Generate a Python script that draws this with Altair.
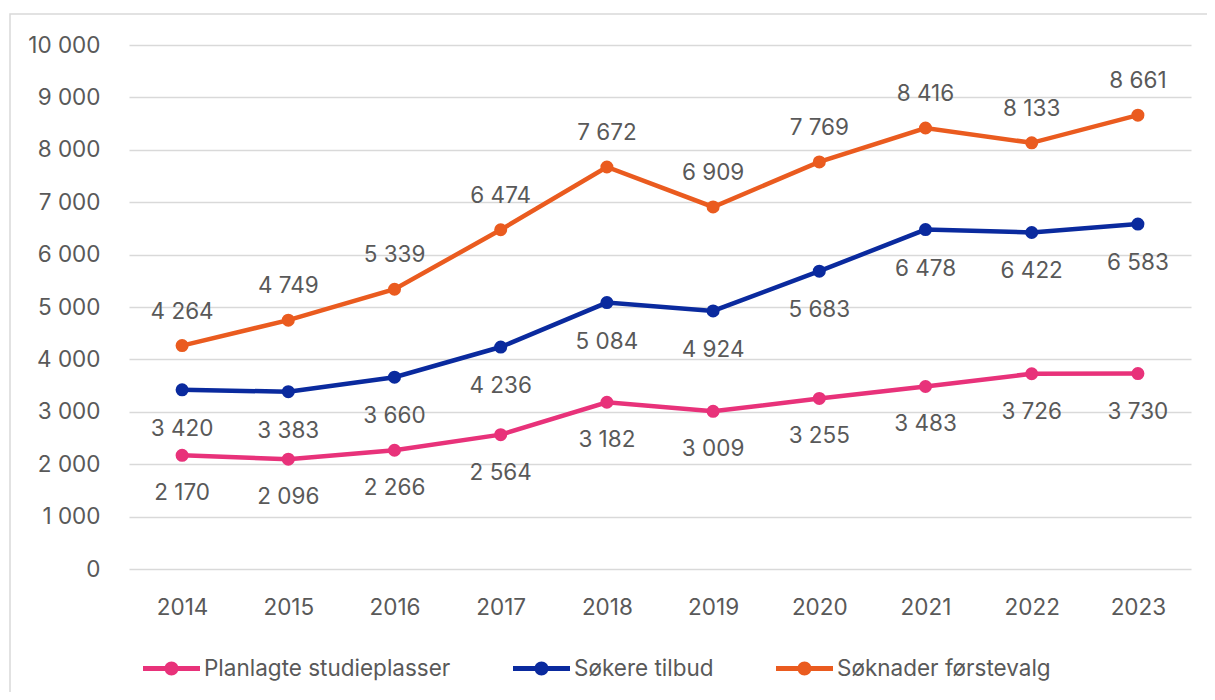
import altair as alt
import pandas as pd

years = ["2014", "2015", "2016", "2017", "2018", "2019", "2020", "2021", "2022", "2023"]
planlagte = [2170, 2096, 2266, 2564, 3182, 3009, 3255, 3483, 3726, 3730]
sokere = [3420, 3383, 3660, 4236, 5084, 4924, 5683, 6478, 6422, 6583]
soknader = [4264, 4749, 5339, 6474, 7672, 6909, 7769, 8416, 8133, 8661]
series_names = ["Planlagte studieplasser", "Søkere tilbud", "Søknader førstevalg"]
series_colors = ["#E8327A", "#0A2A9E", "#EA5B1F"]

rows = []
for name, vals in zip(series_names, [planlagte, sokere, soknader]):
    for yr, v in zip(years, vals):
        rows.append({"year": yr, "series": name, "value": v})
df = pd.DataFrame(rows)

FONT = "Inter"
TXT = "#595959"
FS = 22.5

color = alt.Color(
    "series:N",
    scale=alt.Scale(domain=series_names, range=series_colors),
    sort=series_names,
    legend=alt.Legend(
        title=None,
        orient="none",
        direction="horizontal",
        legendX=14,
        legendY=595,
        padding=0,
        columnPadding=62,
        labelOffset=4,
        symbolType="M-1,-0.088L1,-0.088L1,0.088L-1,0.088Z M0.246,0 A0.246,0.246 0 1,1 -0.246,0 A0.246,0.246 0 1,1 0.246,0 Z",
        symbolSize=3249,
        symbolStrokeWidth=0,
        symbolOpacity=1,
        labelFont=FONT,
        labelFontSize=FS,
        labelColor=TXT,
        labelLimit=400,
    ),
)

x = alt.X(
    "year:N",
    sort=years,
    scale=alt.Scale(type="point", padding=0.5),
    axis=alt.Axis(
        title=None, labelAngle=0, ticks=False, domain=False, grid=False,
        labelFont=FONT, labelFontSize=FS, labelColor=TXT, labelPadding=27,
    ),
)
y = alt.Y(
    "value:Q",
    scale=alt.Scale(domain=[0, 10000], nice=False),
    axis=alt.Axis(
        title=None, values=list(range(0, 10001, 1000)), ticks=False, domain=False,
        gridColor="#D9D9D9", gridWidth=1.5,
        labelExpr="replace(format(datum.value, ','), ',', ' ')",
        labelFont=FONT, labelFontSize=FS, labelColor=TXT, labelPadding=29,
    ),
)

base = alt.Chart(df)

lines = base.mark_line(strokeWidth=4.5).encode(x=x, y=y, color=color)
points = base.mark_point(filled=True, size=170, opacity=1).encode(x=x, y=y, color=color)

def labels(name, dy):
    return base.transform_filter(alt.datum.series == name).transform_calculate(
        lab="replace(format(datum.value, ','), ',', ' ')"
    ).mark_text(dy=dy, font=FONT, fontSize=FS, color=TXT, baseline="middle").encode(
        x=x, y=y, text="lab:N"
    )

border = alt.Chart(pd.DataFrame({"a": [0]})).mark_rect(
    fill="transparent", stroke="#D9D9D9", strokeWidth=1.5
).encode(x=alt.value(-119), x2=alt.value(1120), y=alt.value(-31), y2=alt.value(700))

chart = alt.layer(
    border, lines, points,
    labels(series_names[0], 38), labels(series_names[1], 39), labels(series_names[2], -34),
).properties(
    width=1062, height=524,
    autosize=alt.AutoSizeParams(type="none"),
    padding={"left": 121, "top": 37, "right": 16, "bottom": 123},
).configure_view(stroke=None)

chart.save("out.html", embed_options={"renderer": "svg", "actions": False})
